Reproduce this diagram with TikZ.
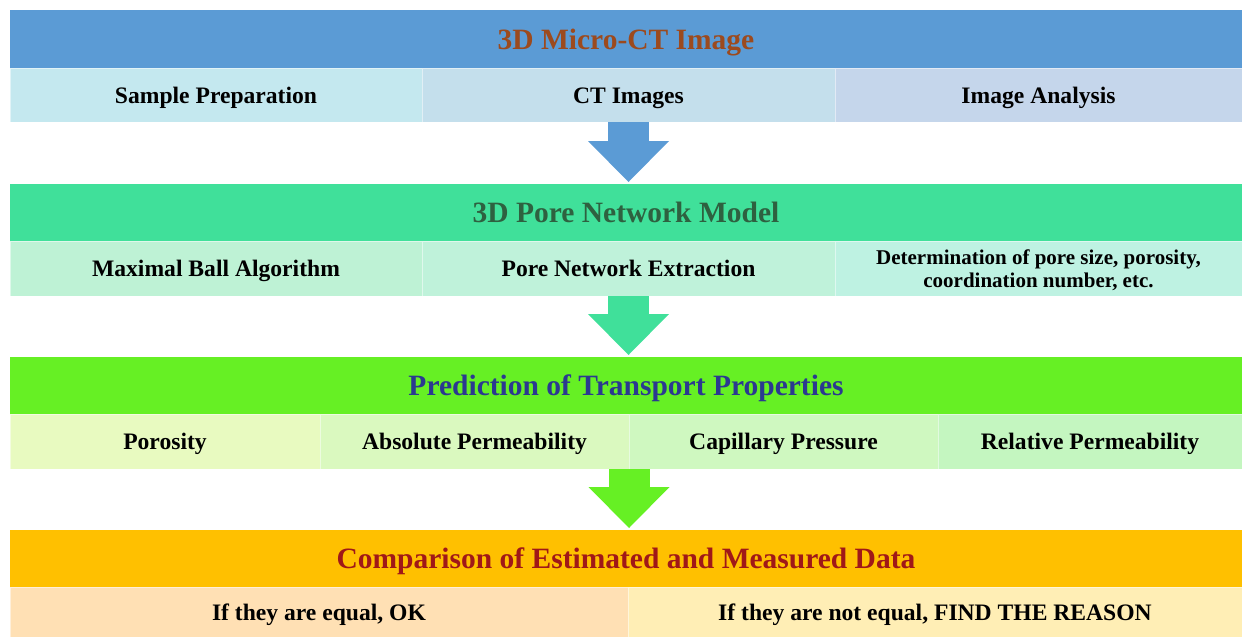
\documentclass[tikz,border=0pt]{standalone}
\usepackage{fontspec}
\setmainfont{Liberation Serif}
\usetikzlibrary{arrows.meta,positioning,calc}

\definecolor{ctBand}{HTML}{5B9BD5}
\definecolor{ctText}{HTML}{9C4A1E}
\definecolor{pnBand}{HTML}{40E09A}
\definecolor{pnText}{HTML}{2E6140}
\definecolor{tpBand}{HTML}{66F024}
\definecolor{tpText}{HTML}{2B3990}
\definecolor{cmBand}{HTML}{FFC000}
\definecolor{cmText}{HTML}{A01818}
% sub-row fills
\definecolor{ctA}{HTML}{C4E8EF}
\definecolor{ctB}{HTML}{C4DFEC}
\definecolor{ctC}{HTML}{C5D6EB}
\definecolor{pnA}{HTML}{BEF2D5}
\definecolor{pnB}{HTML}{BFF2DA}
\definecolor{pnC}{HTML}{BEF2E2}
\definecolor{tpA}{HTML}{E8FAC0}
\definecolor{tpB}{HTML}{DAF9BF}
\definecolor{tpC}{HTML}{CFF8C0}
\definecolor{tpD}{HTML}{C4F6C0}
\definecolor{cmA}{HTML}{FFE0B4}
\definecolor{cmB}{HTML}{FFEEB5}

\begin{document}
\begin{tikzpicture}[
  x=1pt, y=-1pt,
  band/.style={fill=#1, minimum width=1232pt, minimum height=57pt, inner sep=0pt, outer sep=0pt,
    text height=20pt, text depth=0pt, font=\fontsize{29.5}{32}\selectfont\bfseries},
  cell/.style={fill=#1, draw=white, draw opacity=0.5, line width=1pt, inner sep=0pt, outer sep=0pt,
    align=center, anchor=north west, text height=16pt, text depth=0pt, font=\fontsize{23.6}{26}\selectfont\bfseries},
  flow/.style={draw=#1, line width=41pt, shorten >=2pt, -{Triangle[width=81pt, length=41pt, line width=0pt]}}
]
\useasboundingbox (0,0) rectangle (1242,637);

% stage 1
\node[band=ctBand, minimum height=58pt, text=ctText] (ct) at (626,39) {3D Micro-CT Image};
\node[cell=ctA, minimum width=412pt, minimum height=54pt] (ct1) at (ct.south west) {Sample Preparation};
\node[cell=ctB, minimum width=413pt, minimum height=54pt] (ct2) at (ct1.north east) {CT Images};
\node[cell=ctC, minimum width=407pt, minimum height=54pt] (ct3) at (ct2.north east) {Image Analysis};

% stage 2
\node[band=pnBand, text=pnText] (pn) at (626,212.5) {3D Pore Network Model};
\node[cell=pnA, minimum width=412pt, minimum height=55pt] (pn1) at (pn.south west) {Maximal Ball Algorithm};
\node[cell=pnB, minimum width=413pt, minimum height=55pt] (pn2) at (pn1.north east) {Pore Network Extraction};
\node[cell=pnC, minimum width=407pt, minimum height=55pt, text height=,
  font=\fontsize{21}{23}\selectfont\bfseries] (pn3) at (pn2.north east) {Determination of pore size, porosity,\\coordination number, etc.};

% stage 3
\node[band=tpBand, text=tpText] (tp) at (626,385.5) {Prediction of Transport Properties};
\node[cell=tpA, minimum width=310pt, minimum height=55pt] (tp1) at (tp.south west) {Porosity};
\node[cell=tpB, minimum width=309pt, minimum height=55pt] (tp2) at (tp1.north east) {Absolute Permeability};
\node[cell=tpC, minimum width=309pt, minimum height=55pt] (tp3) at (tp2.north east) {Capillary Pressure};
\node[cell=tpD, minimum width=304pt, minimum height=55pt] (tp4) at (tp3.north east) {Relative Permeability};

% stage 4
\node[band=cmBand, text=cmText] (cm) at (626,558.5) {Comparison of Estimated and Measured Data};
\node[cell=cmA, minimum width=618pt, minimum height=50pt] (cm1) at (cm.south west) {If they are equal, OK};
\node[cell=cmB, minimum width=614pt, minimum height=50pt] (cm2) at (cm1.north east) {If they are not equal, FIND THE REASON};

% flow arrows
\draw[flow=ctBand] (ct2.south) -- (ct2.south |- pn.north);
\draw[flow=pnBand] (pn2.south) -- (pn2.south |- tp.north);
\draw[flow=tpBand] (tp2.south east) -- (tp2.south east |- cm.north);
\end{tikzpicture}
\end{document}
